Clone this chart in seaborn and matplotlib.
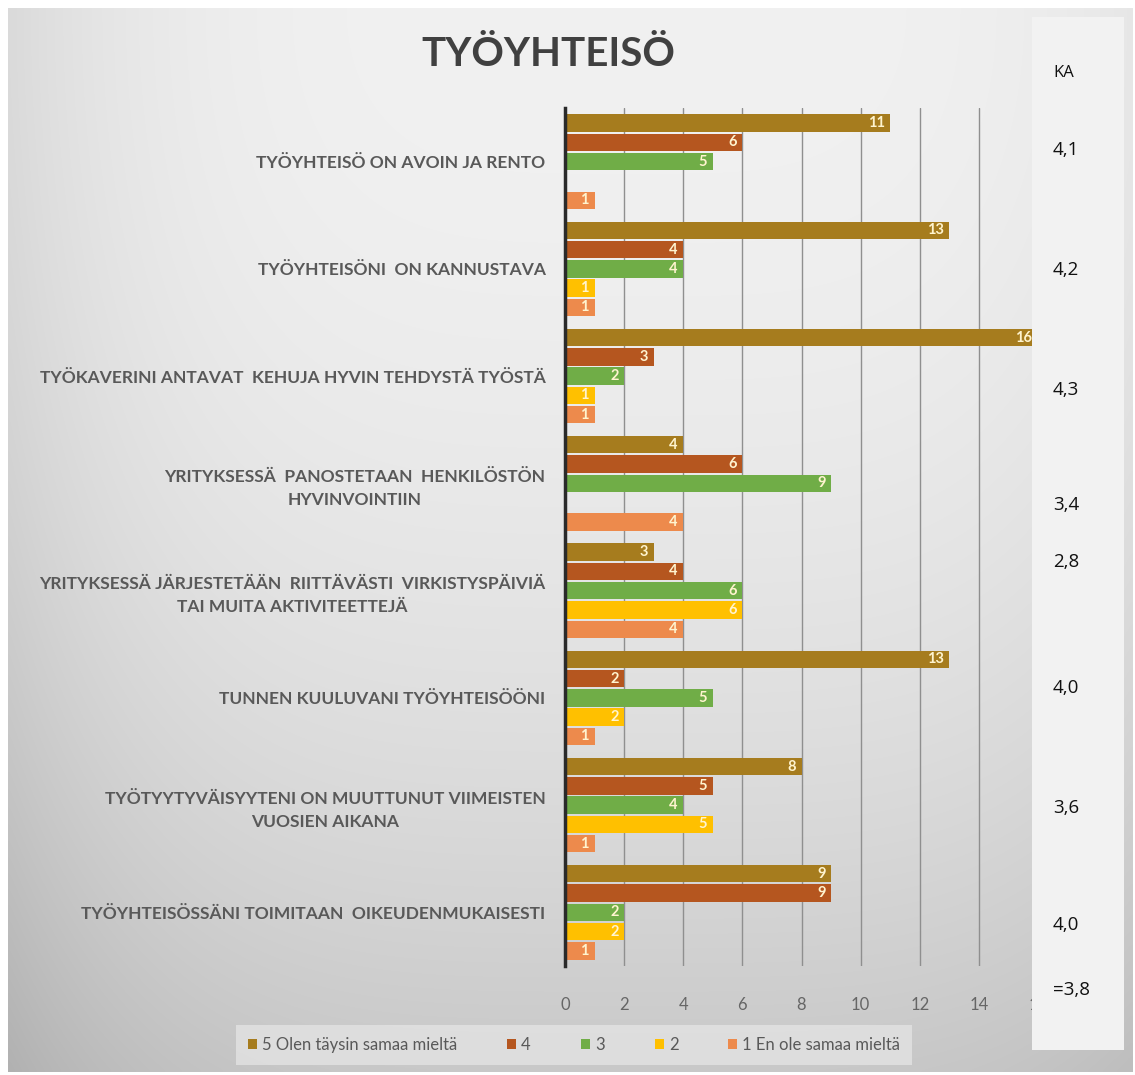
import numpy as np
import pandas as pd
import matplotlib
matplotlib.use("Agg")
import matplotlib.pyplot as plt
from matplotlib.patches import Rectangle
import seaborn as sns

# ---------------- data ----------------
categories = [
    "TYÖYHTEISÖ ON AVOIN JA RENTO",
    "TYÖYHTEISÖNI  ON KANNUSTAVA",
    "TYÖKAVERINI ANTAVAT  KEHUJA HYVIN TEHDYSTÄ TYÖSTÄ",
    "YRITYKSESSÄ  PANOSTETAAN  HENKILÖSTÖN\nHYVINVOINTIIN",
    "YRITYKSESSÄ JÄRJESTETÄÄN  RIITTÄVÄSTI  VIRKISTYSPÄIVIÄ\nTAI MUITA AKTIVITEETTEJÄ",
    "TUNNEN KUULUVANI TYÖYHTEISÖÖNI",
    "TYÖTYYTYVÄISYYTENI ON MUUTTUNUT VIIMEISTEN\nVUOSIEN AIKANA",
    "TYÖYHTEISÖSSÄNI TOIMITAAN  OIKEUDENMUKAISESTI",
]
series_names = ["5 Olen täysin samaa mieltä", "4", "3", "2", "1 En ole samaa mieltä"]
s5 = [11, 13, 16, 4, 3, 13, 8, 9]
s4 = [6, 4, 3, 6, 4, 2, 5, 9]
s3 = [5, 4, 2, 9, 6, 5, 4, 2]
s2 = [0, 1, 1, 0, 6, 2, 5, 2]
s1 = [1, 1, 1, 4, 4, 1, 1, 1]
x_ticks = [0, 2, 4, 6, 8, 10, 12, 14, 16]
ka_title = "KA"
ka_values = ["4,1", "4,2", "4,3", "3,4", "2,8", "4,0", "3,6", "4,0", "=3,8"]
ka_y_px = [150, 270, 390, 505, 562, 688, 808, 925, 990]

colors = ["#A67C1E", "#B5561F", "#70AD47", "#FFC000", "#ED8A4C"]

rows = []
for name, vals in zip(series_names, [s5, s4, s3, s2, s1]):
    for cat, v in zip(categories, vals):
        rows.append({"cat": cat, "series": name, "value": v})
df = pd.DataFrame(rows)

# ---------------- figure ----------------
W, H = 1135, 1075
sns.set_theme(style="white")
plt.rcParams["font.family"] = ["Lato", "DejaVu Sans"]
fig = plt.figure(figsize=(W / 100, H / 100), dpi=100)
fig.patch.set_facecolor("white")

# background gradient panel
bg = fig.add_axes([8 / W, 3 / H, (W - 10) / W, (H - 11) / H], zorder=-5)
yy, xx = np.mgrid[0:1:300j, 0:1:300j]
val = 0.945 - 0.16 * yy ** 2 - 0.09 * np.abs((xx - 0.55) / 0.55) ** 4
img = np.dstack([val, val, val])
bg.imshow(img, aspect="auto", extent=[0, 1, 1, 0], interpolation="bicubic")
bg.set_xlim(0, 1)
bg.set_ylim(1, 0)
bg.axis("off")

# main axes
left, right, top, bottom = 565, 1038, 108, 966
ax = fig.add_axes([left / W, 1 - bottom / H, (right - left) / W, (bottom - top) / H])
ax.patch.set_visible(False)

sns.barplot(
    data=df, y="cat", x="value", hue="series", orient="h",
    order=categories, hue_order=series_names,
    palette=dict(zip(series_names, colors)),
    width=0.9, gap=0.1, ax=ax, legend=True, saturation=1,
    edgecolor="none",
)

ax.set_xlim(0, 16)
ax.set_ylim(7.5, -0.5)
ax.set_xlabel("")
ax.set_ylabel("")
ax.set_xticks(x_ticks)
ax.set_xticklabels([str(t) for t in x_ticks])
ax.tick_params(axis="x", length=0, pad=22, labelsize=12, labelcolor="#666666")
ax.tick_params(axis="y", length=0, pad=14)
for lab in ax.get_yticklabels():
    lab.set_fontsize(12.5)
    lab.set_fontweight("bold")
    lab.set_color("#595959")
    lab.set_multialignment("center")
    lab.set_linespacing(1.55)

ax.xaxis.grid(True, color="#8f8f8f", linewidth=1)
ax.yaxis.grid(False)
ax.set_axisbelow(True)
for side in ["top", "right", "bottom"]:
    ax.spines[side].set_visible(False)
ax.spines["left"].set_color("#2a2a2a")
ax.spines["left"].set_linewidth(2.5)
ax.spines["left"].set_zorder(10)

# data labels inside bar ends
for cont, vals in zip(ax.containers, [s5, s4, s3, s2, s1]):
    labels = [str(v) if v > 0 else "" for v in vals]
    texts = ax.bar_label(cont, labels=labels, label_type="edge", padding=-4,
                         fontsize=10.5, color="#FFF4CF", fontweight="bold")
    for t in texts:
        t.set_ha("right")

# legend
handles, labels = ax.get_legend_handles_labels()
ax.get_legend().remove()
leg = fig.legend(handles, labels, loc="center", bbox_to_anchor=(574 / W, 1 - 1045 / H),
                 ncol=5, frameon=True, fontsize=12, handlelength=0.55, handleheight=0.55,
                 handletextpad=0.3, columnspacing=3.0, borderpad=0.7)
leg.get_frame().set_facecolor("#e3e3e3")
leg.get_frame().set_edgecolor("none")
leg.get_frame().set_boxstyle("square", pad=0)
for t in leg.get_texts():
    t.set_color("#595959")

# title
fig.text(548 / W, 1 - 55 / H, "TYÖYHTEISÖ", ha="center", va="center",
         fontsize=29, fontweight="bold", color="#404040")

# KA panel
panel = Rectangle((1032 / W, 1 - 1050 / H), (1124 - 1032) / W, (1050 - 17) / H,
                  transform=fig.transFigure, facecolor="#f2f2f2", edgecolor="none", zorder=20)
fig.add_artist(panel)
fig.text(1053 / W, 1 - 73 / H, ka_title, ha="left", va="center", fontsize=12,
         color="#111111", family=["Open Sans", "DejaVu Sans"], zorder=21)
for v, ypx in zip(ka_values, ka_y_px):
    fig.text(1053 / W, 1 - ypx / H, v, ha="left", va="center", fontsize=13.5,
             color="#111111", family=["Open Sans", "DejaVu Sans"], zorder=21)

fig.savefig("out.png", dpi=100, facecolor=fig.get_facecolor())
